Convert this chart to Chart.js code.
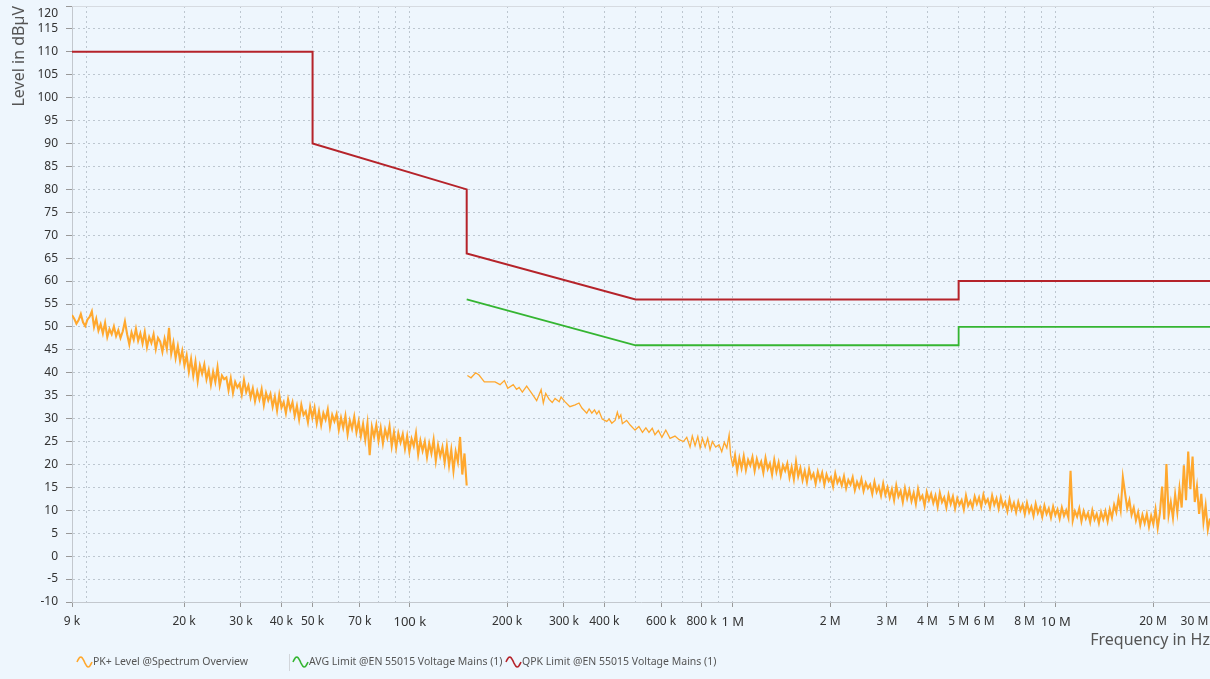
<!DOCTYPE html>
<html>
<head>
<meta charset="utf-8">
<title>EN 55015 Voltage Mains</title>
<script src="https://cdn.jsdelivr.net/npm/chart.js@4.4.1/dist/chart.umd.min.js"></script>
<style>
    html, body { margin: 0; padding: 0; background: #eef6fd; }
    #grafico { display: block; }
</style>
</head>
<body>
<canvas id="grafico" width="1210" height="679"></canvas>
<script>
// limites EN 55015 (frecuencia en Hz, nivel en dBuV)
var qpkFreq = [9e3, 50e3, 50e3, 150e3, 150e3, 500e3, 5e6, 5e6, 30e6];
var qpkLevel = [110, 110, 90, 80, 66, 56, 56, 60, 60];
var avgFreq = [150e3, 500e3, 5e6, 5e6, 30e6];
var avgLevel = [56, 46, 46, 50, 50];

// PK+ tramo 9 kHz - 150 kHz (barrido logaritmico)
var pkLevelA = [
    52.6, 51.8, 50.7, 51.5, 52.8, 51.0, 50.2, 51.6, 52.2, 53.4,
    50.0, 51.8, 49.2, 50.6, 48.6, 50.9, 47.8, 49.5, 48.4, 50.1,
    48.0, 49.3, 47.6, 49.0, 51.2, 48.4, 46.2, 48.8, 47.2, 49.6,
    47.0, 48.6, 46.4, 48.9, 45.6, 47.8, 46.5, 48.4, 45.2, 47.6,
    46.8, 44.6, 47.4, 45.2, 49.8, 44.2, 46.6, 43.2, 45.8, 42.6,
    44.8, 41.6, 43.8, 40.2, 43.0, 39.4, 42.4, 38.2, 41.6, 39.8,
    41.8, 38.6, 40.6, 37.4, 40.2, 38.0, 41.2, 37.2, 39.4, 38.6,
    39.0, 36.2, 38.8, 35.6, 38.0, 36.8, 37.6, 35.2, 38.4, 35.8,
    37.2, 34.6, 36.6, 33.8, 36.0, 34.2, 36.4, 33.0, 35.6, 34.0,
    35.4, 32.6, 34.8, 31.8, 35.2, 32.4, 33.6, 31.2, 34.2, 32.0,
    33.6, 30.6, 32.8, 29.8, 33.0, 30.8, 31.6, 29.2, 32.6, 30.2,
    32.4, 29.0, 31.6, 28.6, 31.2, 29.8, 32.0, 28.2, 30.8, 29.4,
    31.0, 27.6, 30.2, 28.0, 30.6, 26.6, 29.6, 27.8, 30.4, 27.0,
    29.4, 26.2, 28.8, 25.4, 29.0, 22.0, 28.2, 26.0, 28.6, 25.2,
    28.0, 24.6, 27.6, 25.8, 28.4, 24.0, 27.0, 23.6, 26.8, 24.8,
    26.6, 23.4, 26.2, 22.8, 25.6, 24.0, 26.8, 22.2, 25.2, 23.0,
    25.0, 21.6, 24.6, 22.4, 25.4, 20.8, 24.2, 21.8, 23.8, 20.4,
    24.0, 19.8, 23.2, 18.6, 22.8, 20.6, 26.0, 17.8, 22.4, 15.4
];

// PK+ tramo 150 kHz - 1 MHz (frecuencia en kHz)
var pkFreqB = [150.7, 154.7, 159.9, 163.8, 170.1, 183.6, 190.3, 196.2, 201, 209,
    214, 218, 223, 230, 238.5, 247, 255, 259, 263.5, 270,
    276, 281.6, 290, 294, 302, 313, 325, 334, 341, 353,
    359, 366, 373, 379, 385, 394, 407, 414, 422, 432,
    439, 444, 450, 455, 469, 481, 498, 512, 525, 538,
    550, 563, 574, 588, 603, 620, 639, 662, 682, 703,
    720, 737, 749, 764, 779, 792, 805, 821, 836, 850,
    864, 885, 906, 924, 941, 958, 974, 984];
var pkLevelB = [39.4, 38.9, 40.0, 39.5, 38.0, 38.0, 37.4, 38.3, 36.6, 37.4,
    36.4, 36.8, 35.8, 37.1, 35.5, 33.9, 36.3, 33.4, 35.5, 34.2,
    33.5, 34.4, 33.7, 34.7, 33.7, 32.6, 33.0, 33.4, 32.3, 31.2,
    32.1, 31.2, 31.9, 31.0, 31.7, 29.9, 29.4, 29.9, 29.0, 29.6,
    31.4, 30.1, 30.8, 28.9, 29.6, 28.6, 27.5, 28.3, 27.0, 28.0,
    27.0, 27.9, 26.5, 27.4, 25.9, 27.5, 25.7, 26.2, 25.4, 25.0,
    25.9, 23.8, 26.2, 24.1, 26.1, 23.6, 25.7, 23.8, 25.7, 23.2,
    25.0, 23.8, 24.3, 22.8, 24.8, 23.6, 26.5, 22.1];

// PK+ tramo 1 MHz - 30 MHz (barrido logaritmico)
var pkLevelC = [
    19.6, 22.0, 18.6, 21.4, 19.2, 21.8, 18.8, 21.0, 19.8, 21.6,
    18.6, 21.2, 19.4, 20.6, 18.2, 21.4, 19.0, 20.2, 17.8, 21.0,
    18.4, 20.4, 17.6, 19.8, 18.6, 20.2, 17.2, 19.4, 16.8, 20.6,
    17.4, 19.2, 16.6, 18.6, 16.2, 19.0, 17.0, 18.0, 15.8, 18.4,
    16.6, 18.2, 15.6, 17.8, 16.4, 17.2, 15.2, 18.0, 16.0, 17.0,
    15.4, 17.4, 14.8, 16.6, 15.6, 17.2, 14.4, 16.2, 15.0, 16.8,
    14.2, 16.0, 14.8, 15.6, 13.6, 16.2, 14.0, 15.2, 13.2, 15.8,
    13.4, 15.0, 12.8, 14.6, 12.2, 15.4, 13.0, 14.2, 11.8, 14.8,
    12.6, 14.4, 12.0, 13.8, 11.4, 14.6, 12.4, 13.2, 11.0, 14.0,
    12.2, 13.6, 11.6, 13.2, 10.8, 13.8, 11.8, 12.8, 10.6, 13.4,
    11.4, 13.0, 10.4, 12.6, 11.2, 12.2, 10.2, 13.2, 11.0, 12.0,
    10.6, 13.0, 11.4, 12.8, 10.8, 13.4, 11.6, 12.4, 10.6, 13.2,
    11.2, 12.6, 10.4, 12.8, 10.8, 11.8, 9.8, 12.4, 10.2, 11.6,
    9.6, 11.8, 10.0, 11.2, 9.2, 11.6, 9.6, 10.8, 8.8, 11.4,
    9.4, 10.6, 8.6, 11.0, 9.2, 10.4, 8.4, 10.8, 9.0, 10.2,
    8.2, 10.6, 8.8, 10.0, 8.4, 18.6, 7.8, 9.8, 8.6, 10.4,
    7.6, 9.8, 8.2, 9.4, 7.4, 10.0, 8.0, 9.2, 7.2, 9.6,
    8.0, 9.8, 7.6, 10.2, 8.4, 11.2, 9.6, 12.6, 10.0, 17.2,
    13.8, 10.4, 12.2, 9.0, 10.6, 7.8, 9.6, 6.8, 9.0, 7.2,
    9.2, 6.4, 8.8, 7.0, 10.2, 6.2, 9.4, 15.2, 8.0, 20.1,
    9.0, 11.8, 8.4, 13.4, 9.6, 14.8, 10.6, 19.8, 12.2, 22.8,
    14.6, 21.7, 11.8, 15.2, 9.2, 13.6, 7.4, 11.0, 5.8, 8.2
];

// etiquetas del eje de frecuencia
var xLabelFreqs = [9e3, 2e4, 3e4, 4e4, 5e4, 7e4, 1e5, 2e5, 3e5, 4e5, 6e5, 8e5,
    1e6, 2e6, 3e6, 4e6, 5e6, 6e6, 8e6, 1e7, 2e7, 3e7];
var xLabelTexts = ['9 k', '20 k', '30 k', '40 k', '50 k', '70 k', '100 k', '200 k', '300 k', '400 k', '600 k', '800 k',
    '1 M', '2 M', '3 M', '4 M', '5 M', '6 M', '8 M', '10 M', '20 M', '30 M'];
var xDecadas = [1e5, 1e6, 1e7];

var colorPK = '#ffa82e';
var colorAVG = '#35b532';
var colorQPK = '#b5232a';

Chart.defaults.font.family = "'Noto Sans', sans-serif";

function barrido(inicio, fin, niveles) {
    var puntos = [];
    var n = niveles.length;
    for (var i = 0; i < n; i++) {
        puntos.push({ x: inicio * Math.pow(fin / inicio, i / (n - 1)), y: niveles[i] });
    }
    return puntos;
}

function pares(freqs, niveles, factor) {
    return freqs.map(function (f, i) {
        return { x: f * factor, y: niveles[i] };
    });
}

function lineasGrid() {
    var valores = [9e3];
    [1e4, 1e5, 1e6, 1e7].forEach(function (dec) {
        for (var m = 1; m <= 9; m++) {
            if (dec * m <= 30e6) valores.push(dec * m);
        }
    });
    return valores;
}

var datosPK = barrido(9e3, 150e3, pkLevelA)
    .concat([{ x: 150.3e3, y: null }])
    .concat(pares(pkFreqB, pkLevelB, 1e3))
    .concat(barrido(1e6, 30e6, pkLevelC));

/////
// leyenda propia con iconos de onda
const leyenda = {
    id: 'leyenda',
    beforeDatasetsDraw: function (chart) {
        var ctx = chart.ctx, a = chart.chartArea;
        ctx.save();
        ctx.strokeStyle = '#d6dbe1';
        ctx.lineWidth = 1;
        ctx.beginPath();
        ctx.moveTo(a.left, a.top + 0.5);
        ctx.lineTo(a.right, a.top + 0.5);
        ctx.stroke();
        ctx.restore();
    },
    afterDraw: function (chart) {
        var ctx = chart.ctx;
        var yc = 662;
        var iconos = [77, 293, 506];
        ctx.save();
        chart.data.datasets.forEach(function (ds, i) {
            var x0 = iconos[i];
            ctx.strokeStyle = ds.borderColor;
            ctx.lineWidth = 1.6;
            ctx.beginPath();
            for (var t = 0; t <= 15; t++) {
                var y = yc - 5 * Math.sin(2 * Math.PI * t / 15);
                if (t === 0) ctx.moveTo(x0 + t, y); else ctx.lineTo(x0 + t, y);
            }
            ctx.stroke();
            ctx.fillStyle = '#555';
            ctx.font = "10.5px 'Noto Sans', sans-serif";
            ctx.textBaseline = 'middle';
            ctx.fillText(ds.label, x0 + 16, yc);
        });
        ctx.strokeStyle = '#d2d6db';
        ctx.lineWidth = 1;
        ctx.beginPath();
        ctx.moveTo(289.5, 654);
        ctx.lineTo(289.5, 671);
        ctx.stroke();
        ctx.restore();
    }
};

const grafico = new Chart('grafico', {
    type: 'line',
    data: {
        datasets: [{
            label: 'PK+ Level @Spectrum Overview',
            data: datosPK,
            borderColor: colorPK,
            borderWidth: 1.3,
            pointRadius: 0,
            spanGaps: false,
            segment: {
                // tramos densos mas gruesos
                borderWidth: function (ctx) {
                    var f = ctx.p0.parsed.x;
                    return (f >= 150e3 && f < 0.99e6) ? 1.3 : 2.1;
                }
            }
        }, {
            label: 'AVG Limit @EN 55015 Voltage Mains (1)',
            data: pares(avgFreq, avgLevel, 1),
            borderColor: colorAVG,
            borderWidth: 1.8,
            pointRadius: 0
        }, {
            label: 'QPK Limit @EN 55015 Voltage Mains (1)',
            data: pares(qpkFreq, qpkLevel, 1),
            borderColor: colorQPK,
            borderWidth: 2,
            pointRadius: 0
        }]
    },
    options: {
        responsive: false,
        animation: false,
        layout: { padding: { top: 6, right: 0, bottom: 27, left: 0 } },
        plugins: {
            legend: { display: false },
            tooltip: { enabled: false }
        },
        scales: {
            x: {
                type: 'logarithmic',
                min: 9e3,
                max: 30e6,
                afterBuildTicks: function (scale) {
                    scale.ticks = lineasGrid().map(function (v) { return { value: v }; });
                },
                afterFit: function (scale) {
                    scale.height = 50;
                    scale.paddingLeft = 0;
                    scale.paddingRight = 0;
                },
                border: { color: '#c3c8ce', width: 1, dash: [2, 3] },
                grid: {
                    color: 'rgba(150,160,172,0.55)',
                    tickLength: 5,
                    tickBorderDash: [],
                    tickColor: function (ctx) {
                        if (!ctx.tick) return '#999';
                        return xLabelFreqs.indexOf(ctx.tick.value) >= 0 ? '#999' : 'rgba(0,0,0,0)';
                    }
                },
                ticks: {
                    autoSkip: false,
                    maxRotation: 0,
                    minRotation: 0,
                    padding: 7,
                    color: '#333',
                    font: function (ctx) {
                        var v = ctx.tick ? ctx.tick.value : 0;
                        return { size: xDecadas.indexOf(v) >= 0 ? 13 : 12 };
                    },
                    callback: function (value) {
                        var k = xLabelFreqs.indexOf(value);
                        if (k < 0) return '';
                        if (value === 3e7) return xLabelTexts[k] + '\u00a0\u00a0\u00a0\u00a0\u00a0\u00a0\u00a0\u00a0\u00a0\u00a0';
                        return xLabelTexts[k];
                    }
                },
                title: {
                    display: true,
                    text: 'Frequency in Hz',
                    align: 'end',
                    color: '#555',
                    font: { size: 16 },
                    padding: { top: 0, bottom: 2 }
                }
            },
            y: {
                min: -10,
                max: 120,
                afterFit: function (scale) {
                    scale.width = 72;
                    scale.paddingTop = 0;
                    scale.paddingBottom = 0;
                },
                border: { color: '#c3c8ce', width: 1, dash: [2, 3] },
                grid: {
                    color: 'rgba(150,160,172,0.55)',
                    tickLength: 6,
                    tickBorderDash: [],
                    tickColor: '#999'
                },
                ticks: {
                    stepSize: 5,
                    autoSkip: false,
                    padding: 8,
                    color: '#333',
                    font: { size: 12 },
                    callback: function (value) {
                        if (value === 120) return ['', '120'];
                        return String(value);
                    }
                },
                title: {
                    display: true,
                    text: 'Level in dBµV',
                    align: 'end',
                    color: '#555',
                    font: { size: 16 },
                    padding: { top: 10, bottom: 0 }
                }
            }
        }
    },
    plugins: [leyenda]
});
</script>
</body>
</html>
